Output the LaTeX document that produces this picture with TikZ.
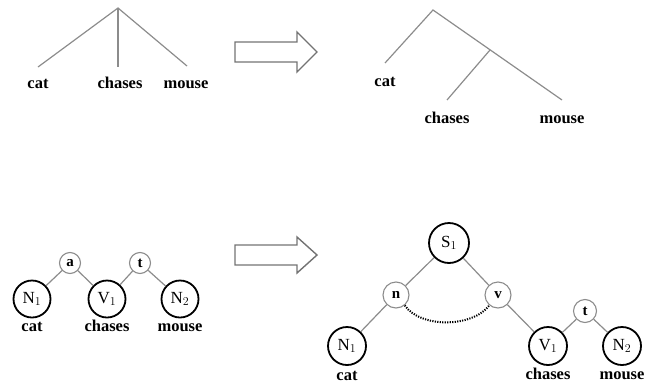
\documentclass[tikz,border=0pt]{standalone}
\usepackage{fontspec}
\setmainfont{Liberation Serif}
\begin{document}
\begin{tikzpicture}[x=1pt,y=-1pt,
  edge/.style={draw=black!45,line width=1.2pt},
  word/.style={font=\fontsize{16.5}{16.5}\selectfont\bfseries,inner sep=0pt,anchor=base},
  bigc/.style={circle,draw=black,line width=1.8pt,inner sep=0pt,minimum size=#1,font=\fontsize{17}{17}\selectfont},
  smallc/.style={circle,draw=black!45,line width=1.1pt,inner sep=0pt,minimum size=#1,font=\fontsize{15}{15}\selectfont\bfseries},
  bigarrow/.style={draw=black!55,line width=1.4pt,line join=miter}]
\useasboundingbox (0,0) rectangle (647,383);
% ---------- top left tree
\coordinate (r1) at (118,8);
\coordinate (l1) at (38,67);
\coordinate (m1) at (118,67);
\coordinate (e1) at (187,66);
\node[word] (cat1) at (38,88) {cat};
\node[word] (chases1) at (120,88) {chases};
\node[word] (mouse1) at (186,88) {mouse};
\draw[edge] (l1) -- (r1) -- (e1);
\draw[edge] (r1) -- (m1);
% ---------- top arrow
\draw[bigarrow] (235,42) -- (297,42) -- (297,32) -- (317,52) -- (297,72) -- (297,62) -- (235,62) -- cycle;
% ---------- top right tree
\coordinate (r2) at (433,10);
\coordinate (l2) at (385,63);
\coordinate (b2) at (490,50);
\coordinate (c2) at (447,100);
\coordinate (e2) at (562,100);
\node[word] (cat2) at (385,86) {cat};
\node[word] (chases2) at (447,123) {chases};
\node[word] (mouse2) at (562,123) {mouse};
\draw[edge] (l2) -- (r2) -- (e2);
\draw[edge] (b2) -- (c2);
% ---------- bottom left graph
\node[bigc=37pt] (N1a) at (32,299) {N$_1$};
\node[bigc=37pt] (V1a) at (107,299) {V$_1$};
\node[bigc=37pt] (N2a) at (180,299) {N$_2$};
\node[smallc=21pt] (a) at (70,263) {a};
\node[smallc=21pt] (ta) at (140,263) {t};
\draw[edge] (a) -- (N1a);
\draw[edge] (a) -- (V1a);
\draw[edge] (ta) -- (V1a);
\draw[edge] (ta) -- (N2a);
\node[word] (cat3) at (32,331) {cat};
\node[word] (chases3) at (107,331) {chases};
\node[word] (mouse3) at (180,331) {mouse};
% ---------- bottom arrow
\draw[bigarrow] (235,245) -- (297,245) -- (297,237) -- (317,255) -- (297,273) -- (297,265) -- (235,265) -- cycle;
% ---------- bottom right graph
\node[bigc=40pt] (S1) at (449,243) {S$_1$};
\node[smallc=26pt] (n) at (396,295) {n};
\node[smallc=26pt] (v) at (498,295) {v};
\node[smallc=23pt] (tb) at (585,311) {t};
\node[bigc=38pt] (N1b) at (347,346) {N$_1$};
\node[bigc=38pt] (V1b) at (548,346) {V$_1$};
\node[bigc=38pt] (N2b) at (622,346) {N$_2$};
\draw[edge] (S1) -- (n);
\draw[edge] (S1) -- (v);
\draw[edge] (n) -- (N1b);
\draw[edge] (v) -- (V1b);
\draw[edge] (tb) -- (V1b);
\draw[edge] (tb) -- (N2b);
\draw[line width=2pt,dash pattern=on 1.2pt off 1.3pt] (n.-50) .. controls (420,328) and (472,328) .. (v.230);
\node[word] (cat4) at (347,380) {cat};
\node[word] (chases4) at (548,379) {chases};
\node[word] (mouse4) at (622,379) {mouse};
\end{tikzpicture}
\end{document}
